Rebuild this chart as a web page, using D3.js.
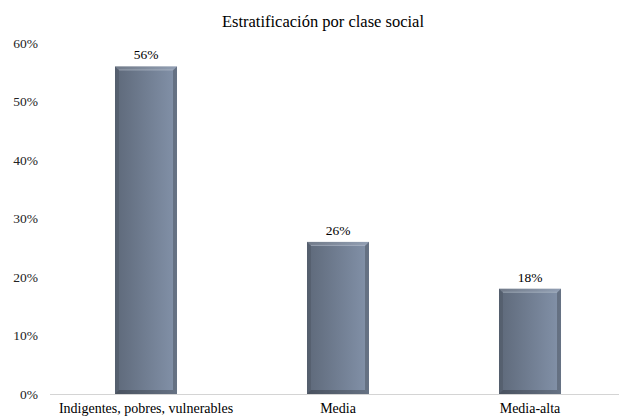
<!DOCTYPE html>
<html>
<head>
<meta charset="utf-8">
<script src="https://cdn.jsdelivr.net/npm/d3@7/dist/d3.min.js"></script>
<style>
  html, body { margin: 0; padding: 0; background: #fff; }
  svg { display: block; }
  .serif { font-family: "Liberation Serif"; }
</style>
</head>
<body>
<svg id="chart" width="619" height="417"></svg>
<script>
// Social class shares
const categories = ["Indigentes, pobres, vulnerables", "Media", "Media-alta"];
const values = [0.56, 0.26, 0.18];
const yTicks = [0, 0.1, 0.2, 0.3, 0.4, 0.5, 0.6];
const title = "Estratificación por clase social";

const svg = d3.select("#chart");
const margin = { left: 50, right: -7, top: 43, bottom: 23 };
const W = 619, H = 417;

const x = d3.scaleBand()
  .domain(categories)
  .range([margin.left, W - margin.right])
  .paddingInner(0.677)
  .paddingOuter(0.3385);

const y = d3.scaleLinear()
  .domain([0, 0.6])
  .range([H - margin.bottom, margin.top]);

// Body gradient for the bevelled bars
const defs = svg.append("defs");
const grad = defs.append("linearGradient").attr("id", "barBody")
  .attr("x1", "0").attr("x2", "1").attr("y1", "0").attr("y2", "0");
grad.append("stop").attr("offset", "0%").attr("stop-color", "#5e697a");
grad.append("stop").attr("offset", "100%").attr("stop-color", "#8392a9");

// Title
svg.append("text")
  .attr("class", "serif")
  .attr("x", 323).attr("y", 27)
  .attr("text-anchor", "middle")
  .attr("font-size", 16.5)
  .attr("fill", "#000")
  .text(title);

// Y axis labels (no axis line)
const yAxis = d3.axisLeft(y).tickValues(yTicks).tickFormat(d3.format(".0%")).tickSize(0).tickPadding(12);
const gy = svg.append("g").attr("transform", `translate(${margin.left},0)`).call(yAxis);
gy.select(".domain").remove();
gy.attr("font-family", null);
gy.selectAll("text").attr("class", "serif").attr("font-size", 13.5).attr("fill", "#222");

// Baseline
svg.append("line")
  .attr("x1", margin.left).attr("x2", W)
  .attr("y1", y(0) + 0.5).attr("y2", y(0) + 0.5)
  .attr("stroke", "#d4d4d4").attr("stroke-width", 1.2);

// Category labels
const gx = d3.axisBottom(x).tickSize(0).tickPadding(9);
const gxs = svg.append("g").attr("transform", `translate(0,${y(0)})`).call(gx);
gxs.select(".domain").remove();
gxs.attr("font-family", null);
gxs.selectAll("text").attr("class", "serif").attr("font-size", 14).attr("fill", "#000");

// Bars with bevel facets
const bev = 4;
const bars = svg.append("g").selectAll("g").data(categories).join("g");
bars.each(function (c, i) {
  const g = d3.select(this);
  const x0 = x(c), x1 = x(c) + x.bandwidth();
  const y0 = y(values[i]), y1 = y(0);
  g.append("rect")
    .attr("x", x0).attr("y", y0)
    .attr("width", x1 - x0).attr("height", y1 - y0)
    .attr("fill", "url(#barBody)");
  const poly = (pts, fill, op) => g.append("polygon")
    .attr("points", pts.map(p => p.join(",")).join(" "))
    .attr("fill", fill).attr("fill-opacity", op);
  // top facet
  poly([[x0, y0], [x1, y0], [x1 - bev, y0 + bev], [x0 + bev, y0 + bev]], "#ffffff", 0.12);
  // left facet
  poly([[x0, y0], [x0 + bev, y0 + bev], [x0 + bev, y1 - bev], [x0, y1]], "#000", 0.1);
  // right facet
  poly([[x1, y0], [x1 - bev, y0 + bev], [x1 - bev, y1 - bev], [x1, y1]], "#000", 0.22);
  // bottom facet
  poly([[x0, y1], [x0 + bev, y1 - bev], [x1 - bev, y1 - bev], [x1, y1]], "#000", 0.22);
  // thin highlight line inside the top facet
  g.append("line")
    .attr("x1", x0 + bev).attr("x2", x1 - bev)
    .attr("y1", y0 + bev - 0.5).attr("y2", y0 + bev - 0.5)
    .attr("stroke", "#b8c2d0").attr("stroke-opacity", 0.5);
  // value label
  g.append("text")
    .attr("class", "serif")
    .attr("x", (x0 + x1) / 2).attr("y", y0 - 7)
    .attr("text-anchor", "middle")
    .attr("font-size", 13.5).attr("fill", "#000")
    .text(d3.format(".0%")(values[i]));
});
</script>
</body>
</html>
